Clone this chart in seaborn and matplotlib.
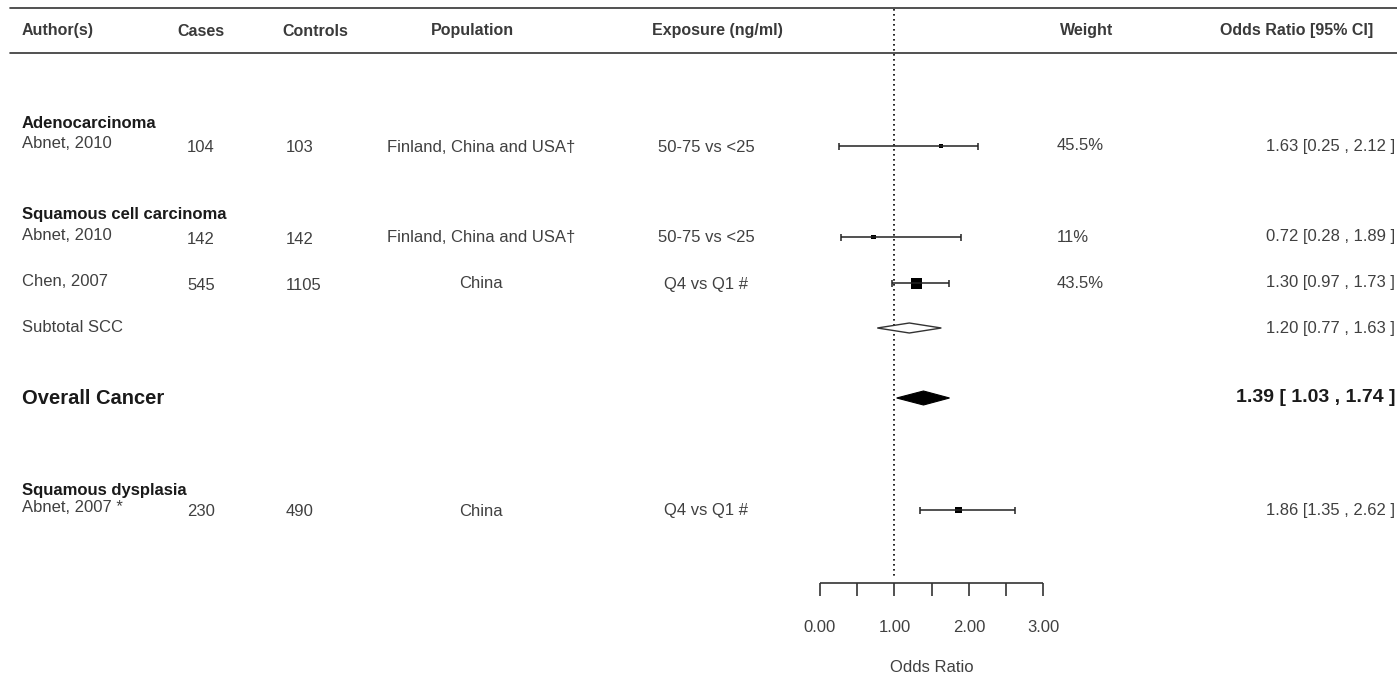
import matplotlib
matplotlib.use('Agg')
import matplotlib.pyplot as plt
import seaborn as sns
import pandas as pd

# ---- data ----
group_names = ['Adenocarcinoma', 'Squamous cell carcinoma', 'Squamous dysplasia']
authors = ['Abnet, 2010', 'Abnet, 2010', 'Chen, 2007', 'Abnet, 2007 *']
cases = [104, 142, 545, 230]
controls = [103, 142, 1105, 490]
population = ['Finland, China and USA\u2020', 'Finland, China and USA\u2020', 'China', 'China']
exposure = ['50-75 vs <25', '50-75 vs <25', 'Q4 vs Q1 #', 'Q4 vs Q1 #']
weights = ['45.5%', '11%', '43.5%', '']
or_est = [1.63, 0.72, 1.30, 1.86]
ci_lo = [0.25, 0.28, 0.97, 1.35]
ci_hi = [2.12, 1.89, 1.73, 2.62]

subtotal_label = 'Subtotal SCC'
subtotal = [1.20, 0.77, 1.63]
overall_label = 'Overall Cancer'
overall = [1.39, 1.03, 1.74]

header = ['Author(s)', 'Cases', 'Controls', 'Population', 'Exposure (ng/ml)', 'Weight', 'Odds Ratio [95% CI]']
axis_ticks = [0.0, 0.5, 1.0, 1.5, 2.0, 2.5, 3.0]
axis_labels = ['0.00', '', '1.00', '', '2.00', '', '3.00']
axis_title = 'Odds Ratio'

# ---- layout (pixel rows of the 1397x677 canvas) ----
W, H = 1397, 677
group_y = [124, 215, 490]
study_y = [146, 237, 283, 510]
subtotal_y = 328
overall_y = 398
header_y = 31
axis_y = 583

sns.set_theme(style='white')
plt.rcParams['font.family'] = ['Liberation Sans', 'DejaVu Sans']

TXT = '#404040'
DARK = '#1a1a1a'
FS = 12

fig = plt.figure(figsize=(W / 100, H / 100), dpi=100)
ax = fig.add_axes([0, 0, 1, 1])

# odds ratio scale: 0.00 sits at px 820, 3.00 at px 1043
zero_px = 820
px_per_unit = (1043.3 - zero_px) / 3


def px(x):
    return (x - zero_px) / px_per_unit


# rules
ax.axhline(8, xmin=10 / W, xmax=1, color='#333333', lw=1.2)
ax.axhline(53, xmin=10 / W, xmax=1, color='#333333', lw=1.2)

# header
hdr = dict(fontsize=11.5, fontweight='bold', color='#3a3a3a', va='center')
ax.text(px(22), header_y, header[0], ha='left', **hdr)
ax.text(px(177), header_y, header[1], ha='left', **hdr)
ax.text(px(282), header_y, header[2], ha='left', **hdr)
ax.text(px(472), header_y, header[3], ha='center', **hdr)
ax.text(px(717), header_y, header[4], ha='center', **hdr)
ax.text(px(1060), header_y, header[5], ha='left', **hdr)
ax.text(px(1373), header_y, header[6], ha='right', **hdr)

# reference line at OR = 1
ax.vlines(1, 9, 577, colors='black', linestyles=(0, (1, 2)), lw=1.2)

# group headings
for name, y in zip(group_names, group_y):
    ax.text(px(22), y, name, ha='left', va='center', fontsize=FS, fontweight='bold', color=DARK)

# study rows
norm = dict(fontsize=FS, color=TXT, va='center')
for i, y in enumerate(study_y):
    ax.text(px(22), y - 2, authors[i], ha='left', **norm)
    ax.text(px(187), y + 2, str(cases[i]), ha='left', **norm)
    ax.text(px(286), y + 2, str(controls[i]), ha='left', **norm)
    ax.text(px(481), y + 1, population[i], ha='center', **norm)
    ax.text(px(706), y + 1, exposure[i], ha='center', **norm)
    ax.text(px(1057), y, weights[i], ha='left', **norm)
    ax.text(px(1395), y, f'{or_est[i]:.2f} [{ci_lo[i]:.2f} , {ci_hi[i]:.2f} ]', ha='right', **norm)

# confidence intervals with end caps
ax.hlines(study_y, ci_lo, ci_hi, colors='#222222', lw=1.1)
for lo, hi, y in zip(ci_lo, ci_hi, study_y):
    ax.vlines([lo, hi], y - 3.5, y + 3.5, colors='#222222', lw=1.1)

# point estimates, square area grows with precision
widths = [hi - lo for lo, hi in zip(ci_lo, ci_hi)]
side_px = [11 * (0.76 / w) ** 1.1 for w in widths]
df = pd.DataFrame({'or': or_est, 'y': study_y})
sns.scatterplot(data=df, x='or', y='y', marker='s', color='black',
                s=[(s * 0.72) ** 2 for s in side_px], linewidth=0, ax=ax, legend=False)

# subtotal diamond
est, lo, hi = subtotal
ax.fill([lo, est, hi, est], [subtotal_y, subtotal_y - 5, subtotal_y, subtotal_y + 5],
        facecolor='white', edgecolor='#333333', lw=1.0, zorder=3)
ax.text(px(22), subtotal_y, subtotal_label, ha='left', **norm)
ax.text(px(1395), subtotal_y, f'{est:.2f} [{lo:.2f} , {hi:.2f} ]', ha='right', **norm)

# overall diamond
est, lo, hi = overall
ax.fill([lo, est, hi, est], [overall_y, overall_y - 7, overall_y, overall_y + 7],
        facecolor='black', edgecolor='black', lw=0.8, zorder=3)
ax.text(px(22), overall_y, overall_label, ha='left', va='center', fontsize=14.5,
        fontweight='bold', color=DARK)
ax.text(px(1395), overall_y, f'{est:.2f} [ {lo:.2f} , {hi:.2f} ]', ha='right', va='center',
        fontsize=14, fontweight='bold', color=DARK)

# bottom axis
ax.hlines(axis_y, axis_ticks[0], axis_ticks[-1], colors='#333333', lw=1.2)
ax.vlines(axis_ticks, axis_y, axis_y + 13, colors='#333333', lw=1.2)
for t, lab in zip(axis_ticks, axis_labels):
    if lab:
        ax.text(t, 627, lab, ha='center', va='center', fontsize=FS, color=TXT)
ax.text(sum(axis_ticks) / len(axis_ticks), 667, axis_title, ha='center', va='center', fontsize=FS, color=TXT)

ax.set_xlim(px(0), px(W))
ax.set_ylim(H, 0)
ax.axis('off')

plt.savefig('out.png', dpi=100)
